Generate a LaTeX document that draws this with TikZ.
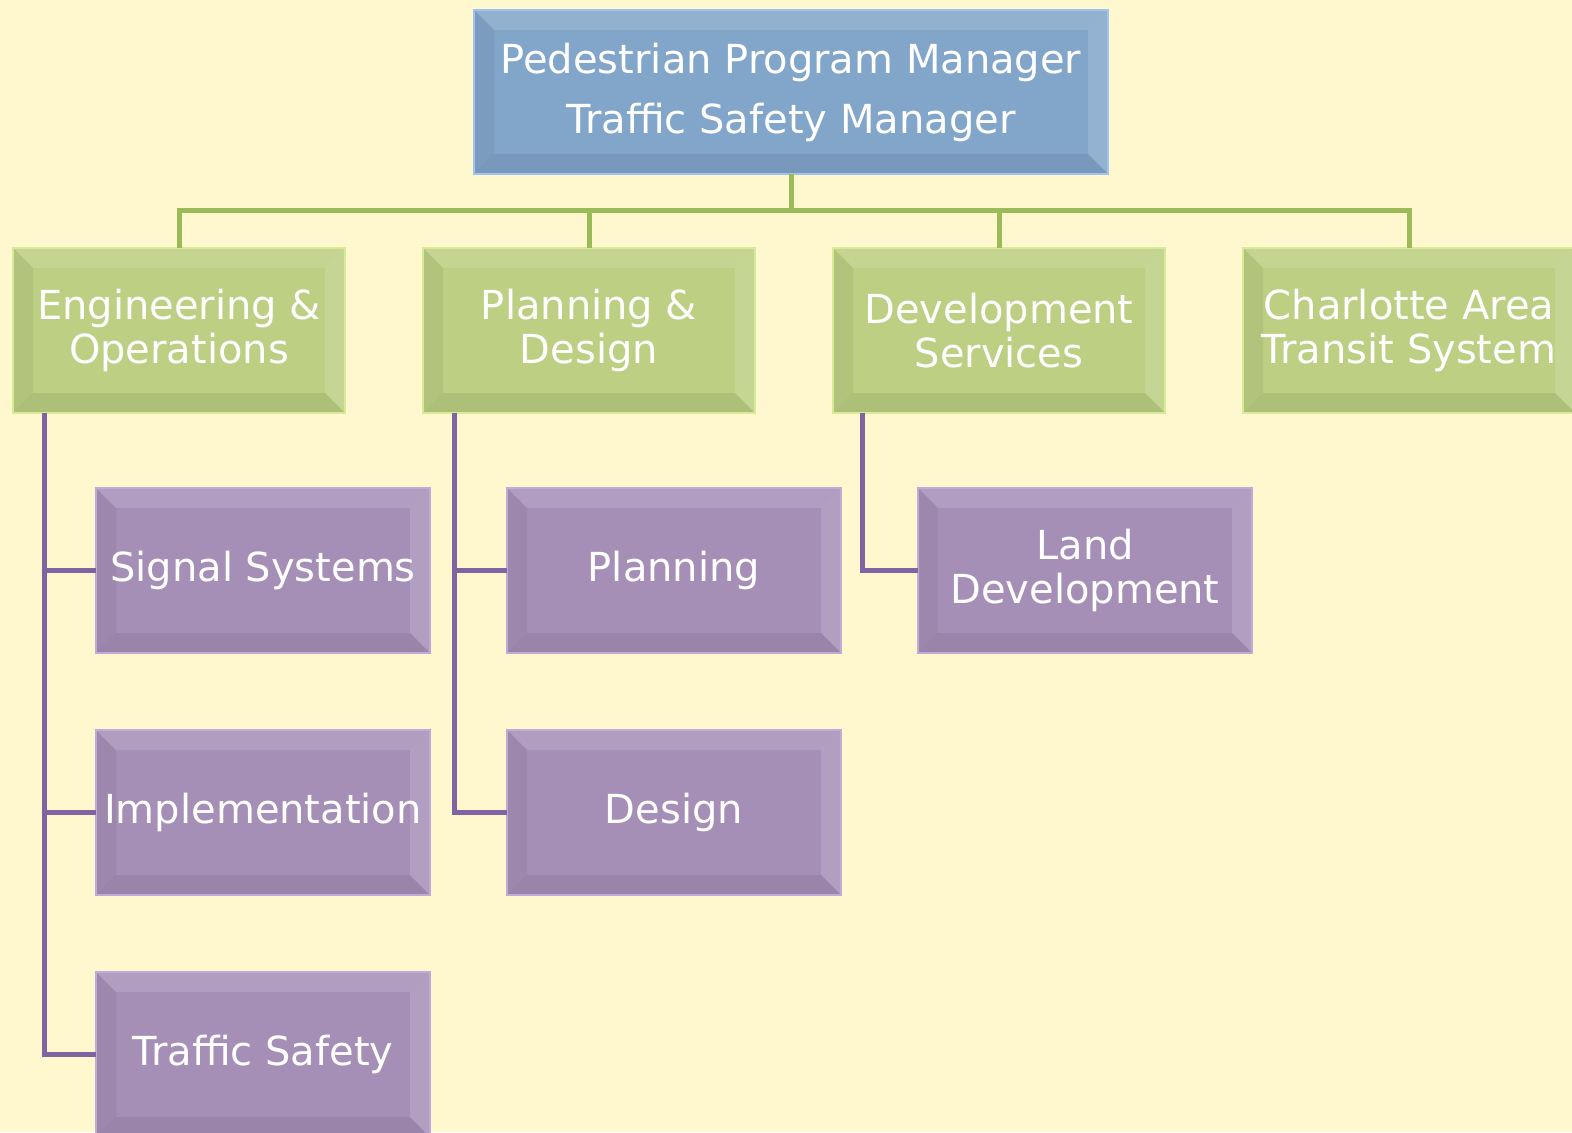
\documentclass[tikz,border=0pt]{standalone}
\usepackage{fontspec}
\setmainfont{DejaVu Sans}
\usetikzlibrary{positioning}

\definecolor{paper}{RGB}{255,248,206}
\definecolor{mgrfill}{RGB}{130,165,202}
\definecolor{mgrrim}{RGB}{160,196,236}
\definecolor{deptfill}{RGB}{188,207,130}
\definecolor{deptrim}{RGB}{214,234,152}
\definecolor{deptlink}{RGB}{155,187,89}
\definecolor{unitfill}{RGB}{166,143,182}
\definecolor{unitrim}{RGB}{194,170,216}
\definecolor{unitlink}{RGB}{128,100,162}

\tikzset{
  bevel/.style={path picture={
    \fill[white,opacity=.13] (path picture bounding box.north west) -- (path picture bounding box.north east)
      -- ([shift={(-10pt,-10pt)}]path picture bounding box.north east) -- ([shift={(10pt,-10pt)}]path picture bounding box.north west) -- cycle;
    \fill[white,opacity=.14] (path picture bounding box.north east) -- (path picture bounding box.south east)
      -- ([shift={(-10pt,10pt)}]path picture bounding box.south east) -- ([shift={(-10pt,-10pt)}]path picture bounding box.north east) -- cycle;
    \fill[black,opacity=.07] (path picture bounding box.south west) -- (path picture bounding box.south east)
      -- ([shift={(-10pt,10pt)}]path picture bounding box.south east) -- ([shift={(10pt,10pt)}]path picture bounding box.south west) -- cycle;
    \fill[black,opacity=.05] (path picture bounding box.north west) -- (path picture bounding box.south west)
      -- ([shift={(10pt,10pt)}]path picture bounding box.south west) -- ([shift={(10pt,-10pt)}]path picture bounding box.north west) -- cycle;
  }},
  box/.style={rectangle, bevel, line width=1.2pt, outer sep=0pt, text=white, align=center, inner sep=2pt},
  mgrbox/.style={box, fill=mgrfill, draw=mgrrim, minimum width=317pt, minimum height=82pt,
    font=\fontsize{20}{30}\selectfont},
  deptbox/.style={box, fill=deptfill, draw=deptrim, minimum width=166pt, minimum height=82.5pt,
    font=\fontsize{20}{22}\selectfont},
  unitbox/.style={box, fill=unitfill, draw=unitrim, minimum width=167pt, minimum height=82.5pt,
    font=\fontsize{20}{22}\selectfont},
  deptline/.style={draw=deptlink, line width=2.5pt},
  unitline/.style={draw=unitlink, line width=2.5pt}
}

\begin{document}
\begin{tikzpicture}[x=0.5pt,y=0.5pt]
\fill[paper] (0,0) rectangle (1572,1132);
\useasboundingbox (0,0) rectangle (1572,1132);

\node[mgrbox] (ppm) at (791,1040) {Pedestrian Program Manager\\Traffic Safety Manager};

\node[deptbox] (eng) at (179,801.5) {Engineering \&\\Operations};
\node[deptbox, right=39pt of eng] (pd) {Planning \&\\Design};
\node[deptbox, right=39pt of pd] (dev) {Development\\Services};
\node[deptbox, right=39pt of dev] (cats) {Charlotte Area\\Transit System};

\node[unitbox] (sig) at (263,561.5) {Signal Systems};
\node[unitbox, below=38.5pt of sig] (impl) {Implementation};
\node[unitbox, below=38.5pt of impl] (tsafe) {Traffic Safety};
\node[unitbox, right=38.5pt of sig] (plan) {Planning};
\node[unitbox, below=38.5pt of plan] (des) {Design};
\node[unitbox, right=38.5pt of plan] (land) {Land\\Development};

\foreach \d in {eng,pd,dev,cats}
  \draw[deptline] (ppm.south) -- ++(0,-37) -| (\d.north);

\draw[unitline] ([xshift=15.5pt]eng.south west) |- (tsafe.west);
\draw[unitline] ([xshift=15.5pt]eng.south west) |- (sig.west);
\draw[unitline] ([xshift=15.5pt]eng.south west) |- (impl.west);
\draw[unitline] ([xshift=15.5pt]pd.south west) |- (des.west);
\draw[unitline] ([xshift=15.5pt]pd.south west) |- (plan.west);
\draw[unitline] ([xshift=14.5pt]dev.south west) |- (land.west);
\end{tikzpicture}
\end{document}
